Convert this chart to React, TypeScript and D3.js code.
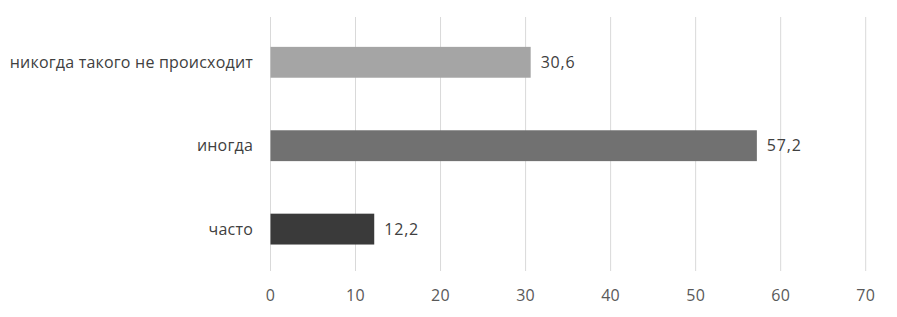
import React from "react";
import * as d3 from "d3";

const categories = ["никогда такого не происходит", "иногда", "часто"];
const values = [30.6, 57.2, 12.2];
const barColors = ["#A5A5A5", "#717171", "#3A3A3A"];
const ticks = [0, 10, 20, 30, 40, 50, 60, 70];

export default function App() {
  const W = 897, H = 317;
  const x = d3.scaleLinear().domain([0, 70]).range([270.5, 865.7]);
  const y = d3.scaleBand<string>().domain(categories).range([20.6, 270.8]).paddingInner(0.63).paddingOuter(0.315);
  const font = "'Open Sans', sans-serif";
  return (
    <svg width={W} height={H} style={{ position: "absolute", left: 0, top: 0 }}>
      <rect width={W} height={H} fill="#fff" />
      {ticks.map((t) => (
        <line key={t} x1={x(t)} x2={x(t)} y1={17} y2={271} stroke="#D9D9D9" strokeWidth={1} />
      ))}
      {categories.map((c, i) => (
        <g key={c}>
          <rect x={x(0)} y={y(c)!} width={x(values[i]) - x(0)} height={y.bandwidth()} fill={barColors[i]} />
          <text x={x(values[i]) + 10} y={y(c)! + y.bandwidth() / 2} dy="0.35em" fontFamily={font} fontSize={16} letterSpacing={0.8} fill="#404040">
            {values[i].toFixed(1).replace(".", ",")}
          </text>
          <text x={253} y={y(c)! + y.bandwidth() / 2} dy="0.35em" textAnchor="end" fontFamily={font} fontSize={16} letterSpacing={0.2} fill="#404040">
            {c}
          </text>
        </g>
      ))}
      {ticks.map((t) => (
        <text key={t} x={x(t)} y={295} dy="0.35em" textAnchor="middle" fontFamily={font} fontSize={16} letterSpacing={0.3} fill="#595959">
          {t}
        </text>
      ))}
    </svg>
  );
}
